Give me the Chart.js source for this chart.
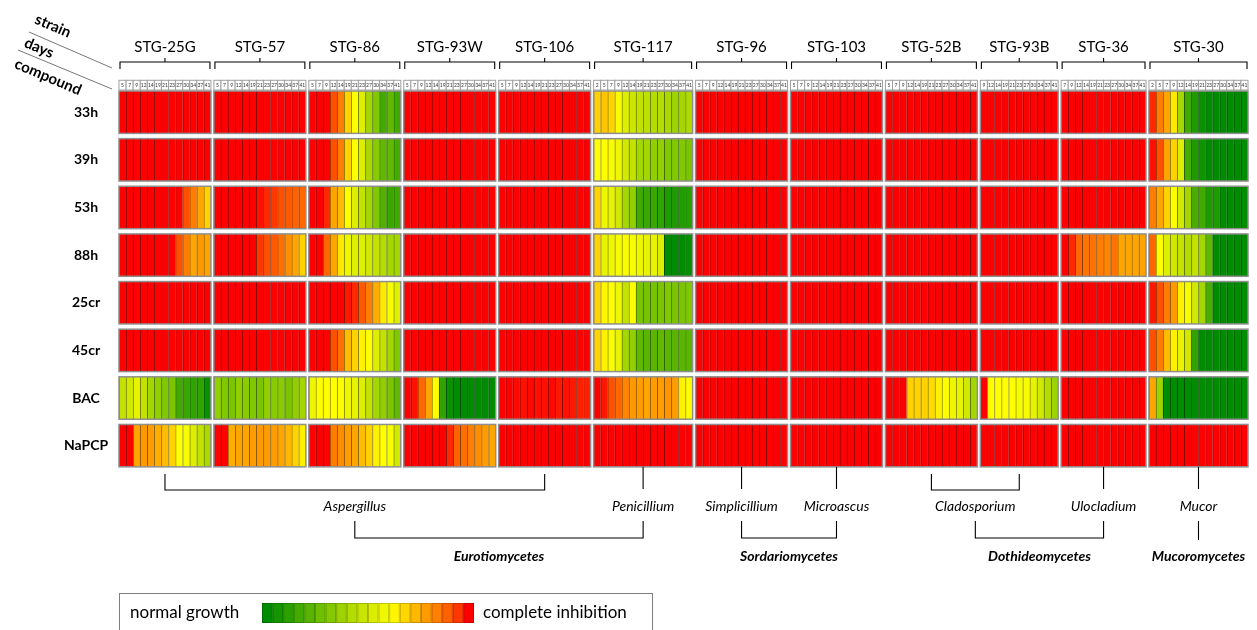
<!DOCTYPE html>
<html>
<head>
<meta charset="utf-8">
<title>Growth inhibition of fungal strains</title>
<script src="https://cdn.jsdelivr.net/npm/chart.js@4.4.1/dist/chart.umd.min.js"></script>
<style>
  html, body { margin: 0; padding: 0; background: #fff; }
  canvas { display: block; }
</style>
</head>
<body>
<canvas id="heat" width="1257" height="630"></canvas>
<script>
// ===== DATA =====
const strains = ['STG-25G', 'STG-57', 'STG-86', 'STG-93W', 'STG-106', 'STG-117',
                 'STG-96', 'STG-103', 'STG-52B', 'STG-93B', 'STG-36', 'STG-30'];

// sampling days (column labels) per strain
const days13 = [5, 7, 9, 12, 14, 19, 21, 23, 27, 30, 34, 37, 41];
const days14 = [2, 5, 7, 9, 12, 14, 19, 21, 23, 27, 30, 34, 37, 41];
const days11 = [9, 12, 14, 19, 21, 23, 27, 30, 34, 37, 41];
const days12 = [7, 9, 12, 14, 19, 21, 23, 27, 30, 34, 37, 41];
const strainDays = [days13, days13, days13, days13, days13, days14,
                    days13, days13, days13, days11, days12, days14];

const compounds = ['33h', '39h', '53h', '88h', '25cr', '45cr', 'BAC', 'NaPCP'];

// inhibition level per cell: 0 = normal growth ... 13 = complete inhibition
const inh33h = [
  [13,13,13,13,13,13,13,13,13,13,13,13,13],
  [13,13,13,13,13,13,13,13,13,13,13,13,13],
  [13,13,13,12,11,9,8,7,5,4,2,3,2],
  [13,13,13,13,13,13,13,13,13,13,13,13,13],
  [13,13,13,13,13,13,13,13,13,13,13,13,13],
  [9,9.3,9,7.8,7,6.3,6,5.8,5.5,5.5,5.2,4.8,5,5.3],
  [13,13,13,13,13,13,13,13,13,13,13,13,13],
  [13,13,13,13,13,13,13,13,13,13,13,13,13],
  [13,13,13,13,13,13,13,13,13,13,13,13,13],
  [13,13,13,13,13,13,13,13,13,13,13],
  [13,13,13,13,13,13,13,13,13,13,13,13],
  [12.5,11,10,8.5,5,2,1,0.3,0,0,0,0,0,0]
];
const inh39h = [
  [13,13,13,13,13,13,13,13,13,13,13,13,13],
  [13,13,13,13,13,13,13,13,13,13,13,13,13],
  [13,13,13,12,11,9,8,7,5.2,4.2,3,3,2.2],
  [13,13,13,13,13,13,13,13,13,13,13,13,13],
  [13,13,13,13,13,13,13,13,13,13,13,13,13],
  [8,8,7.8,7.5,6.5,6,5,5,4.5,4.5,4,4,4,3.8],
  [13,13,13,13,13,13,13,13,13,13,13,13,13],
  [13,13,13,13,13,13,13,13,13,13,13,13,13],
  [13,13,13,13,13,13,13,13,13,13,13,13,13],
  [13,13,13,13,13,13,13,13,13,13,13],
  [13,13,13,13,13,13,13,13,13,13,13,13],
  [12.8,12,10,9,7,2.2,1,0.5,0,0,0,0,0,0]
];
const inh53h = [
  [13,13,13,13,13,13,13,13,13,12,11,10,9],
  [13,13,13,13,13,13,12.8,12.5,12.3,12,11.8,11.6,11.5],
  [13,13,12.5,10,9.5,8,7,6,5,4,2.5,1.8,2],
  [13,13,13,13,13,13,13,13,13,13,13,13,13],
  [13,13,13,13,13,13,13,13,13,13,13,13,13],
  [9,7.5,7.3,6.5,5,4.5,2,1.8,1.8,1.5,1,1,1.1,1.2],
  [13,13,13,13,13,13,13,13,13,13,13,13,13],
  [13,13,13,13,13,13,13,13,13,13,13,13,13],
  [13,13,13,13,13,13,13,13,13,13,13,13,13],
  [13,13,13,13,13,13,13,13,13,13,13],
  [13,13,13,13,13,13,13,13,13,13,13,13],
  [11,10,9,8,6.5,5,2.3,2,1,1,0,0,0,0]
];
const inh88h = [
  [13,13,13,13,13,13,13,13,12,11,10,10.3,10],
  [13,13,13,13,13,13,12.3,12,11.8,11.3,10.5,10,9],
  [13,13,11.5,10,8.5,7.5,7,7,6.5,6,5.5,5,5],
  [13,13,13,13,13,13,13,13,13,13,13,13,13],
  [13,13,13,13,13,13,13,13,13,13,13,13,13],
  [9,7.3,7.5,7.8,7.8,7.8,7.5,7.3,7.3,7,0,0,0,0.2],
  [13,13,13,13,13,13,13,13,13,13,13,13,13],
  [13,13,13,13,13,13,13,13,13,13,13,13,13],
  [13,13,13,13,13,13,13,13,13,13,13,13,13],
  [13,13,13,13,13,13,13,13,13,13,13],
  [13,12.5,11.5,11.2,11.2,11,10.8,11.2,10,10,10,10],
  [11.5,8,7,6.5,6,5.5,6,5,3,0,0,0,0,0]
];
const inh25cr = [
  [13,13,13,13,13,13,13,13,13,13,13,13,13],
  [13,13,13,13,13,13,13,13,13,13,13,13,13],
  [13,13,13,13,13,12.7,12.5,11.8,11,9.8,8.5,7.8,7],
  [13,13,13,13,13,13,13,13,13,13,13,13,13],
  [13,13,13,13,13,13,13,13,13,13,13,13,13],
  [9,8.2,8,7.5,6,8,3.8,3.7,3.7,3.8,4,3.8,3.8,4],
  [13,13,13,13,13,13,13,13,13,13,13,13,13],
  [13,13,13,13,13,13,13,13,13,13,13,13,13],
  [13,13,13,13,13,13,13,13,13,13,13,13,13],
  [13,13,13,13,13,13,13,13,13,13,13],
  [13,13,13,13,13,13,13,13,13,13,13,13],
  [12.7,12,11,10.3,8.3,7.8,6.5,5,2.3,0,0,0,0,0]
];
const inh45cr = [
  [13,13,13,13,13,13,13,13,13,13,13,13,13],
  [13,13,13,13,13,13,13,13,13,13,13,13,13],
  [13,13,13,12,11.3,9.5,9,8.3,8,7,6,5,4],
  [13,13,13,13,13,13,13,13,13,13,13,13,13],
  [13,13,13,13,13,13,13,13,13,13,13,13,13],
  [9,8.3,7.8,7.3,5,4.5,3,2.8,2.8,3,2.8,2.8,2.8,2.8],
  [13,13,13,13,13,13,13,13,13,13,13,13,13],
  [13,13,13,13,13,13,13,13,13,13,13,13,13],
  [13,13,13,13,13,13,13,13,13,13,13,13,13],
  [13,13,13,13,13,13,13,13,13,13,13],
  [13,13,13,13,13,13,13,13,13,13,13,13],
  [12,11,9.5,8.3,7.3,6.5,1.5,0,0,0,0,0,0,0]
];
const inhBAC = [
  [6,6.5,7.3,6,5,4.5,4,3.8,2,1.8,1.5,1.5,0.3],
  [4.5,4,3.8,4.5,4.3,4,3.8,4.5,4.2,4.3,3.8,4.5,5],
  [7.5,8,8,8,7.9,7.5,7.3,7,6,5,4.5,3.8,3],
  [13,12.8,11.5,10,8,1.5,0.3,0,0,0,0,0,0],
  [13,13,12.9,12.8,12.9,12.8,12.8,12.9,12.7,12.8,12.7,12.6,12.6],
  [13,12.7,12,11.5,10.8,10.3,10.2,10,10.2,10.2,10.4,10.2,8.3,8],
  [13,13,13,13,13,13,13,13,13,13,13,13,13],
  [13,13,13,13,13,13,13,13,13,13,13,13,13],
  [13,13,13,9,9,9,8.8,8.3,8,7.5,7.3,6.5,5],
  [13,8,8,8,8,7.8,7.8,7.3,6.5,5.5,4.8],
  [13,13,13,13,13,13,13,13,13,13,13,13],
  [10,4.8,0,0,0,0,0,0,0,0,0,0,0,0]
];
const inhNaPCP = [
  [13,13,10,10.3,10.2,9.8,9.5,9,8,7.8,7,6,5.2],
  [13,13,9.8,10,10,10.2,10.3,10.2,10.2,10,9.6,9,8.3],
  [13,13,13,11,10.6,10.2,10,9.5,9,8.3,8,7.8,6.5],
  [13,13,13,13,13,13,12.5,11.6,11.3,11,10.6,10.2,10],
  [13,13,13,13,13,13,13,13,13,13,13,13,13],
  [13,13,13,13,13,13,13,13,13,13,13,13,13,13],
  [13,13,13,13,13,13,13,13,13,13,13,13,13],
  [13,13,13,13,13,13,13,13,13,13,13,13,13],
  [13,13,13,13,13,13,13,13,13,13,13,13,13],
  [13,13,13,13,13,13,13,13,13,13,13],
  [13,13,13,13,13,13,13,13,13,13,13,13],
  [13,13,13,13,13,13,13,13,13,13,13,13,13,13]
];
const inhibition = [inh33h, inh39h, inh53h, inh88h, inh25cr, inh45cr, inhBAC, inhNaPCP];

// taxonomy below the grid (strain indices)
const genera = [
  { name: 'Aspergillus', strains: [0, 4] },
  { name: 'Penicillium', strains: [5] },
  { name: 'Simplicillium', strains: [6] },
  { name: 'Microascus', strains: [7] },
  { name: 'Cladosporium', strains: [8, 9] },
  { name: 'Ulocladium', strains: [10] },
  { name: 'Mucor', strains: [11] }
];
const classes = [
  { name: 'Eurotiomycetes', genera: [0, 1] },
  { name: 'Sordariomycetes', genera: [2, 3] },
  { name: 'Dothideomycetes', genera: [4, 5] },
  { name: 'Mucoromycetes', genera: [6] }
];

// ===== COLOUR SCALE =====
const levelStops = [
  [0, 140, 0], [30, 155, 0], [64, 170, 0], [96, 184, 0], [128, 200, 0],
  [164, 214, 0], [196, 226, 0], [222, 238, 0], [255, 255, 0], [255, 210, 0],
  [255, 165, 0], [255, 125, 0], [255, 80, 0], [255, 0, 0]
];
function levelColor(v, k = 1) {
  const i = Math.min(levelStops.length - 2, Math.floor(v));
  const t = v - i;
  const a = levelStops[i], b = levelStops[i + 1];
  const c = a.map((q, j) => Math.round((q + (b[j] - q) * t) * k));
  return `rgb(${c[0]},${c[1]},${c[2]})`;
}

// ===== COLUMN LAYOUT =====
const GAP = 0.42;     // gap between strain blocks, in column units
const ROW_H = 0.89;   // cell height, in row units
const blockStart = [];
const columns = [];
let pos = 0;
strainDays.forEach((days, s) => {
  blockStart.push(pos);
  days.forEach((d, k) => columns.push({ x: pos + k + 0.5, strain: s, day: d }));
  pos += days.length + GAP;
});
const xMax = pos - GAP;

const datasets = compounds.map((name, r) => {
  const flat = inhibition[r].flat();
  if (flat.length !== columns.length) console.error('length mismatch', name, flat.length);
  return {
    label: name,
    data: columns.map(c => ({ x: c.x, y: [r, r + ROW_H] })),
    backgroundColor: flat.map(v => levelColor(v)),
    borderColor: flat.map(v => levelColor(v, 0.55)),
    borderWidth: { left: 1, right: 0, top: 0, bottom: 0 },
    borderSkipped: false,
    grouped: false,
    barPercentage: 1,
    categoryPercentage: 1
  };
});

// ===== DECORATION PLUGIN =====
const heatDecor = {
  id: 'heatDecor',
  afterDatasetsDraw(chart) {
    const { ctx, scales: { x, y } } = chart;
    ctx.save();
    strainDays.forEach((days, s) => {
      const x0 = x.getPixelForValue(blockStart[s]);
      const x1 = x.getPixelForValue(blockStart[s] + days.length);
      // frame round each block
      ctx.strokeStyle = '#8f8f8f';
      ctx.lineWidth = 1.5;
      compounds.forEach((c, r) => {
        const y0 = y.getPixelForValue(r), y1 = y.getPixelForValue(r + ROW_H);
        ctx.strokeRect(x0, y0, x1 - x0, y1 - y0);
      });
    });
    // day header boxes
    const hy0 = y.getPixelForValue(-0.225), hy1 = y.getPixelForValue(-0.02);
    ctx.lineWidth = 1;
    ctx.font = '5px Lato';
    ctx.textAlign = 'center';
    ctx.textBaseline = 'middle';
    columns.forEach(c => {
      const a = x.getPixelForValue(c.x - 0.5), b = x.getPixelForValue(c.x + 0.5);
      ctx.fillStyle = '#fff';
      ctx.fillRect(a, hy0, b - a, hy1 - hy0);
      ctx.strokeStyle = '#a0a0a0';
      ctx.strokeRect(a, hy0, b - a, hy1 - hy0);
      ctx.fillStyle = '#333';
      ctx.fillText(String(c.day), (a + b) / 2, (hy0 + hy1) / 2);
    });
    ctx.restore();
  },
  afterDraw(chart) {
    const { ctx, scales: { x, y } } = chart;
    const blockCenter = s => x.getPixelForValue(blockStart[s] + strainDays[s].length / 2);
    ctx.save();
    ctx.fillStyle = '#000';
    ctx.strokeStyle = '#000';
    ctx.lineWidth = 1.1;
    ctx.textAlign = 'center';
    ctx.textBaseline = 'middle';

    // strain names + brackets
    ctx.font = '15px Lato';
    strainDays.forEach((days, s) => {
      const x0 = x.getPixelForValue(blockStart[s]) + 1;
      const x1 = x.getPixelForValue(blockStart[s] + days.length) - 1;
      const cx = (x0 + x1) / 2;
      ctx.fillText(strains[s], cx, 47);
      ctx.beginPath();
      ctx.moveTo(x0, 69); ctx.lineTo(x0, 62); ctx.lineTo(x1, 62); ctx.lineTo(x1, 69);
      ctx.moveTo(cx, 62); ctx.lineTo(cx, 58);
      ctx.stroke();
    });

    // compound row labels
    ctx.font = 'bold 14px Lato';
    compounds.forEach((c, r) => {
      ctx.fillText(c, 86, y.getPixelForValue(r + ROW_H / 2));
    });

    // corner captions
    ctx.font = 'bold 15px Lato';
    [['strain', 53, 26], ['days', 39, 48], ['compound', 48, 77]].forEach(([t, cx, cy]) => {
      ctx.save();
      ctx.translate(cx, cy);
      ctx.rotate(23 * Math.PI / 180);
      ctx.fillText(t, 0, 0);
      ctx.restore();
    });
    ctx.strokeStyle = '#777';
    ctx.lineWidth = 1;
    ctx.beginPath();
    ctx.moveTo(29, 32); ctx.lineTo(112, 68);
    ctx.moveTo(18, 50); ctx.lineTo(112, 89);
    ctx.stroke();

    // taxonomy tree
    ctx.strokeStyle = '#000';
    ctx.lineWidth = 1.1;
    const gridBottom = y.getPixelForValue(compounds.length - 1 + ROW_H);
    const genusX = genera.map(g => {
      if (g.strains.length === 1) {
        const gx = blockCenter(g.strains[0]);
        ctx.beginPath(); ctx.moveTo(gx, gridBottom); ctx.lineTo(gx, 489); ctx.stroke();
        return gx;
      }
      const a = blockCenter(g.strains[0]), b = blockCenter(g.strains[1]);
      ctx.beginPath();
      ctx.moveTo(a, 474); ctx.lineTo(a, 490); ctx.lineTo(b, 490); ctx.lineTo(b, 474);
      ctx.stroke();
      return (a + b) / 2;
    });
    ctx.font = 'italic 14px Lato';
    genera.forEach((g, i) => ctx.fillText(g.name, genusX[i], 506));

    ctx.font = 'bold italic 14px Lato';
    classes.forEach(c => {
      let cx;
      if (c.genera.length === 1) {
        cx = genusX[c.genera[0]];
        ctx.beginPath(); ctx.moveTo(cx, 521); ctx.lineTo(cx, 540); ctx.stroke();
      } else {
        const a = genusX[c.genera[0]], b = genusX[c.genera[1]];
        ctx.beginPath();
        ctx.moveTo(a, 521); ctx.lineTo(a, 538); ctx.lineTo(b, 538); ctx.lineTo(b, 521);
        ctx.stroke();
        cx = (a + b) / 2;
      }
      ctx.fillText(c.name, cx, 556);
    });

    // colour legend
    ctx.strokeStyle = '#7f7f7f';
    ctx.lineWidth = 1;
    ctx.strokeRect(119.5, 593.5, 533, 45);
    ctx.font = '17px Lato';
    ctx.textAlign = 'left';
    ctx.fillText('normal growth', 130, 613);
    ctx.fillText('complete inhibition', 483, 613);
    const steps = 20, lx0 = 262, lx1 = 474;
    const w = (lx1 - lx0) / steps;
    for (let i = 0; i < steps; i++) {
      const v = 13 * i / (steps - 1);
      ctx.fillStyle = levelColor(v);
      ctx.fillRect(lx0 + i * w, 603, w, 20);
      ctx.strokeStyle = levelColor(v, 0.8);
      ctx.strokeRect(lx0 + i * w + 0.5, 603.5, w - 1, 19);
    }
    ctx.restore();
  }
};

// ===== CHART =====
new Chart(document.getElementById('heat'), {
  type: 'bar',
  data: { datasets },
  options: {
    responsive: false,
    animation: false,
    events: [],
    layout: { padding: { left: 119, right: 9, top: 80, bottom: 163 } },
    scales: {
      x: { type: 'linear', min: 0, max: xMax, display: false, offset: false, ticks: { stepSize: 1000 } },
      y: { type: 'linear', min: -0.231, max: 7.893, reverse: true, display: false, ticks: { stepSize: 1000 } }
    },
    plugins: {
      legend: { display: false },
      tooltip: { enabled: false }
    }
  },
  plugins: [heatDecor]
});
</script>
</body>
</html>
